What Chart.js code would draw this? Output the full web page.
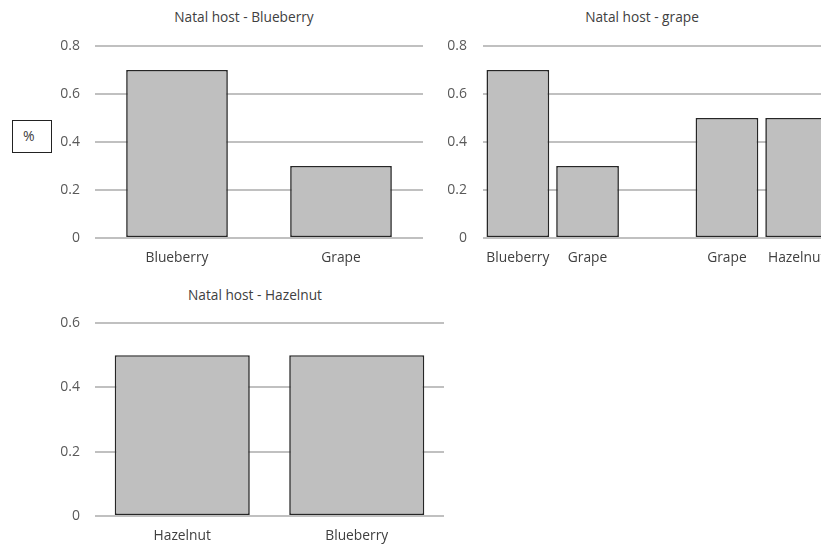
<!DOCTYPE html>
<html>
<head>
<meta charset="utf-8">
<script src="https://cdn.jsdelivr.net/npm/chart.js@4/dist/chart.umd.min.js"></script>
<style>
  html, body { margin: 0; padding: 0; background: #fff; width: 821px; height: 546px; overflow: hidden; }
  body { position: relative; font-family: "Open Sans", Lato, sans-serif; }
  canvas { position: absolute; }
  #pct { position: absolute; left: 12px; top: 120px; width: 38px; height: 31px; border: 1px solid #222;
         font-size: 14px; color: #404040; line-height: 31px; box-sizing: content-box; }
  #pct span { position:absolute; left: 10px; top: -1px; }
  .ttl { position: absolute; width: 300px; height: 20px; line-height: 20px; text-align: center;
         font-size: 13.7px; color: #404040; white-space: nowrap; }
</style>
</head>
<body>
<div id="pct"><span>%</span></div>
<div class="ttl" id="t1" style="left:94px;top:7px"></div>
<div class="ttl" id="t2" style="left:492px;top:7px"></div>
<div class="ttl" id="t3" style="left:105px;top:285px"></div>
<canvas id="c1" width="424" height="270" style="left:0px;top:0px;width:424px;height:270px"></canvas>
<canvas id="c2" width="404" height="270" style="left:440px;top:0px;width:404px;height:270px"></canvas>
<canvas id="c3" width="430" height="276" style="left:40px;top:270px;width:430px;height:276px"></canvas>
<script>
// ---- data ----
const titles = ["Natal host - Blueberry", "Natal host - grape", "Natal host - Hazelnut"];
const cats1 = ["Blueberry", "Grape"];
const vals1 = [0.7, 0.3];
const cats2 = ["Blueberry", "Grape", "", "Grape", "Hazelnut"];
const vals2 = [0.7, 0.3, null, 0.5, 0.5];
const cats3 = ["Hazelnut", "Blueberry"];
const vals3 = [0.5, 0.5];
const yMax1 = 0.8, yMax2 = 0.8, yMax3 = 0.6;
const yStep = 0.2;

const FONT = "'Open Sans', Lato, sans-serif";
const TICK_COLOR = "#595959";

function makeChart(id, titleId, title, cats, vals, yMax, opts) {
  document.getElementById(titleId).textContent = title;
  new Chart(document.getElementById(id), {
    type: "bar",
    data: {
      labels: cats,
      datasets: [{
        data: vals,
        backgroundColor: "#bfbfbf",
        borderColor: "#262626",
        borderWidth: 1.6,
        borderSkipped: false,
        barPercentage: opts.barPct,
        categoryPercentage: 1.0
      }]
    },
    options: {
      responsive: false,
      animation: false,
      devicePixelRatio: 1,
      layout: { padding: { left: 0, right: opts.padRight, top: opts.padTop, bottom: 0 } },
      plugins: {
        legend: { display: false },
        tooltip: { enabled: false },
        title: { display: false }
      },
      scales: {
        x: {
          grid: { display: false, drawTicks: false },
          border: { display: false },
          ticks: { color: "#404040", font: { family: FONT, size: 13.8 }, padding: 12, maxRotation: 0, autoSkip: false },
          afterFit: s => { s.height = opts.xH; }
        },
        y: {
          min: 0, max: yMax,
          grid: { color: "#c0c0c0", lineWidth: 2, drawTicks: false },
          border: { display: false },
          ticks: { stepSize: yStep, color: TICK_COLOR, font: { family: FONT, size: 14 }, padding: opts.yPad },
          afterFit: s => { s.width = opts.yW; }
        }
      }
    }
  });
}

makeChart("c1", "t1", titles[0], cats1, vals1, yMax1,
  { barPct: 0.62, padRight: 1, padTop: 46, xH: 32, yW: 95, yPad: 15 });
makeChart("c2", "t2", titles[1], cats2, vals2, yMax2,
  { barPct: 0.9, padRight: 12.5, padTop: 46, xH: 32, yW: 43, yPad: 16 });
makeChart("c3", "t3", titles[2], cats3, vals3, yMax3,
  { barPct: 0.774, padRight: 26, padTop: 53, xH: 30, yW: 55, yPad: 15 });
</script>
</body>
</html>
